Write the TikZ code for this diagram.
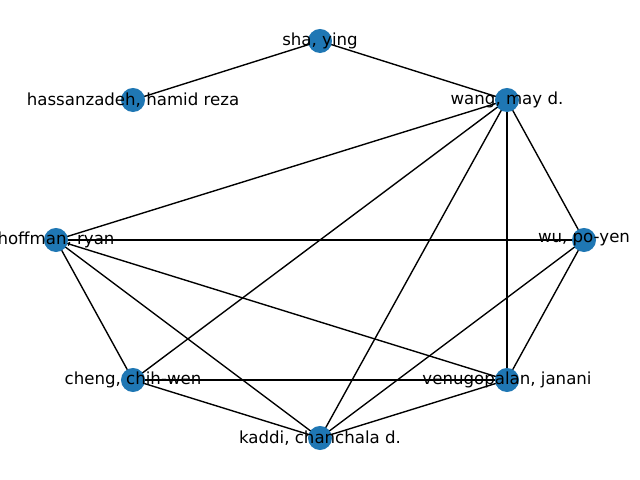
\documentclass[tikz,border=0pt]{standalone}
\usepackage{fontspec}
\setmainfont{DejaVu Sans}
\definecolor{nodeblue}{HTML}{1F77B4}
\begin{document}
\begin{tikzpicture}[x=0.01in,y=-0.01in,
  vert/.style={circle,fill=nodeblue,minimum size=0.24in,inner sep=0pt},
  lbl/.style={font=\fontsize{12}{14}\selectfont,inner sep=0pt},
  edge/.style={draw=black,line width=1pt}]
\useasboundingbox (0,0) rectangle (640,480);
\coordinate (sha) at (320,41);
\coordinate (wang) at (507,100);
\coordinate (wu) at (584,240);
\coordinate (venu) at (507,380);
\coordinate (kaddi) at (320,438);
\coordinate (cheng) at (133,380);
\coordinate (hoff) at (56,240);
\coordinate (hass) at (133,100);
\foreach \a/\b in {sha/hass,sha/wang,wang/hoff,wang/cheng,wang/kaddi,wang/venu,wang/wu,hoff/wu,hoff/cheng,hoff/kaddi,hoff/venu,cheng/venu,cheng/kaddi,kaddi/venu,kaddi/wu,wu/venu}
  \draw[edge] (\a) -- (\b);
\foreach \n in {sha,wang,wu,venu,kaddi,cheng,hoff,hass}
  \node[vert] (v\n) at (\n) {};
\node[lbl] (tsha) at (sha) {sha, ying};
\node[lbl] (twang) at (wang) {wang, may d.};
\node[lbl] (twu) at (wu) {wu, po-yen};
\node[lbl] (tvenu) at (venu) {venugopalan, janani};
\node[lbl] (tkaddi) at (kaddi) {kaddi, chanchala d.};
\node[lbl] (tcheng) at (cheng) {cheng, chih-wen};
\node[lbl] (thoff) at (hoff) {hoffman, ryan};
\node[lbl] (thass) at (hass) {hassanzadeh, hamid reza};
\end{tikzpicture}
\end{document}
